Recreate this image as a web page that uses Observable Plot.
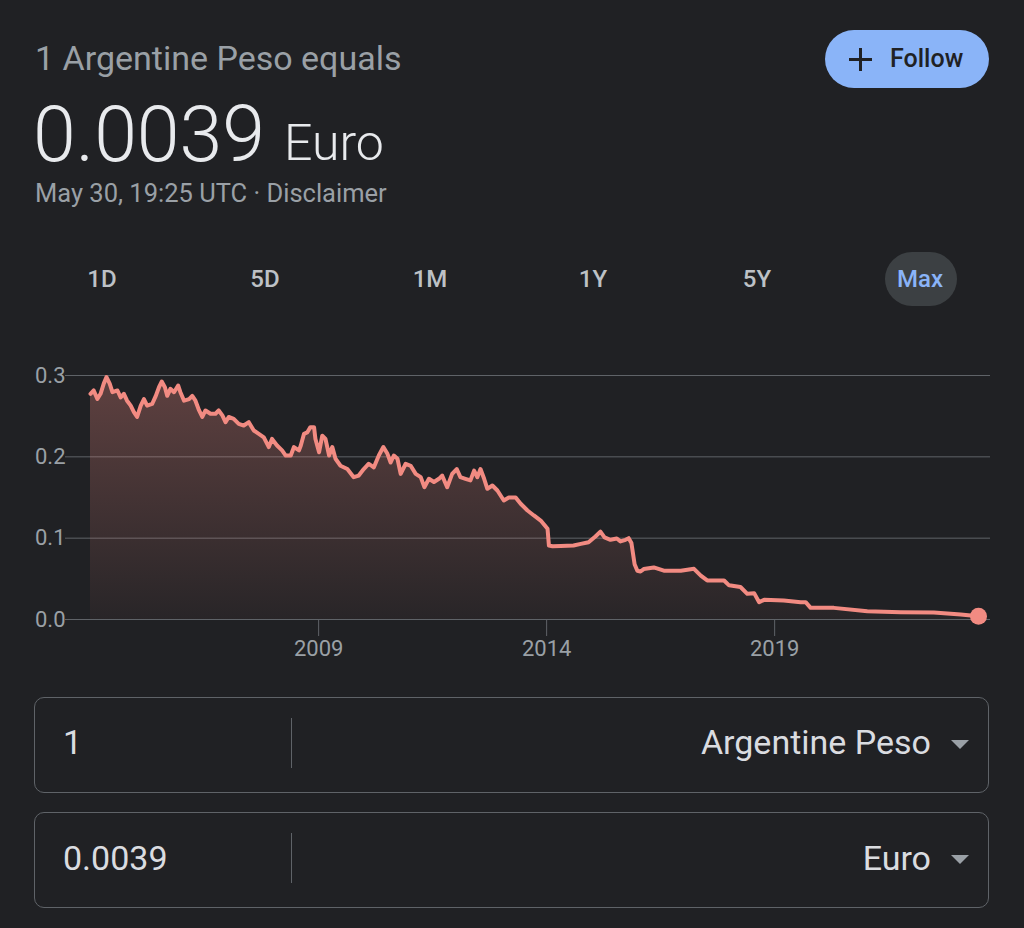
<!DOCTYPE html>
<html>
<head>
<meta charset="utf-8">
<script src="https://cdn.jsdelivr.net/npm/d3@7"></script>
<script src="https://cdn.jsdelivr.net/npm/@observablehq/plot@0.6"></script>
<style>
  html, body { margin: 0; padding: 0; background: #202124; }
  #page { position: relative; width: 1024px; height: 928px; overflow: hidden; font-family: Roboto, "Noto Sans", sans-serif; }
  .abs { position: absolute; line-height: 1; white-space: nowrap; }
  .tab { position: absolute; top: 267px; width: 100px; margin-left: -50px; text-align: center; font-size: 24px; font-weight: 500; color: #bdc1c6; line-height: 1; }
  .box { position: absolute; left: 34px; width: 953px; height: 94px; border: 1.5px solid #5f6368; border-radius: 10px; box-sizing: content-box; }
  .sep { position: absolute; left: 256px; top: 20px; width: 1px; height: 50px; background: #5f6368; }
  .tri { position: absolute; width: 0; height: 0; border-left: 9px solid transparent; border-right: 9px solid transparent; border-top: 9px solid #9aa0a6; }
  .conv { font-size: 34px; color: #dadce0; }
  #chart { position: absolute; left: 0; top: 340px; }
</style>
</head>
<body>
<div id="page">
  <div class="abs" style="left:35px; top:41px; font-size:34px; color:#9aa0a6;">1 Argentine Peso equals</div>
  <div class="abs" style="left:33px; top:97px; font-size:77px; font-weight:300; color:#e8eaed;">0.0039</div>
  <div class="abs" style="left:284px; top:118px; font-size:50px; font-weight:300; color:#e8eaed;">Euro</div>
  <div class="abs" style="left:35px; top:181px; font-size:25.5px; color:#9aa0a6;">May 30, 19:25 UTC · Disclaimer</div>

  <div class="abs" style="left:825px; top:30px; width:164px; height:58px; border-radius:29px; background:#8ab4f8;"></div>
  <div class="abs" style="left:849px; top:58px; width:23px; height:3px; background:#202124;"></div>
  <div class="abs" style="left:859px; top:48px; width:3px; height:23px; background:#202124;"></div>
  <div class="abs" style="left:890px; top:46px; font-size:25px; font-weight:500; color:#202124;">Follow</div>

  <div class="abs" style="left:885px; top:252px; width:72px; height:54px; border-radius:27px; background:#3c4043;"></div>
  <div class="tab" style="left:102px;">1D</div>
  <div class="tab" style="left:265px;">5D</div>
  <div class="tab" style="left:430px;">1M</div>
  <div class="tab" style="left:593px;">1Y</div>
  <div class="tab" style="left:757px;">5Y</div>
  <div class="tab" style="left:920px; color:#8ab4f8;">Max</div>

  <div id="chart"></div>

  <div class="box" style="top:697px;"><div class="sep"></div></div>
  <div class="abs conv" style="left:63px; top:725px;">1</div>
  <div class="abs conv" style="right:93px; top:725px;">Argentine Peso</div>
  <div class="tri" style="left:951px; top:740px;"></div>

  <div class="box" style="top:812px;"><div class="sep"></div></div>
  <div class="abs conv" style="left:63px; top:841px;">0.0039</div>
  <div class="abs conv" style="right:93px; top:841px;">Euro</div>
  <div class="tri" style="left:951px; top:855px;"></div>
</div>

<script>
// Time as decimal years
const years = [
  2004.00,2004.07,2004.15,2004.22,2004.29,2004.35,2004.42,2004.48,2004.59,2004.66,2004.73,2004.80,2004.88,2004.95,
  2005.02,2005.10,2005.17,2005.24,2005.35,2005.43,2005.50,2005.56,2005.63,2005.68,2005.75,2005.83,2005.92,2005.97,
  2006.05,2006.16,2006.23,2006.30,2006.38,2006.45,2006.52,2006.63,2006.74,2006.81,2006.89,2006.96,
  2007.03,2007.14,2007.25,2007.36,2007.47,2007.58,2007.69,2007.80,2007.91,2007.98,
  2008.09,2008.20,2008.28,2008.39,2008.46,2008.57,2008.61,2008.68,2008.75,2008.82,2008.90,2008.93,
  2009.01,2009.08,2009.15,2009.23,2009.30,2009.37,2009.48,2009.63,2009.77,2009.88,2009.99,
  2010.10,2010.21,2010.32,2010.42,2010.51,2010.58,2010.65,2010.73,2010.80,2010.91,
  2011.02,2011.13,2011.24,2011.32,2011.42,2011.53,2011.64,2011.71,2011.82,2011.93,
  2012.03,2012.11,2012.22,2012.33,2012.41,2012.48,2012.55,2012.63,2012.70,2012.81,2012.92,
  2013.06,2013.17,2013.32,2013.43,2013.58,2013.72,2013.87,
  2014.02,2014.05,2014.13,2014.31,2014.59,2014.75,2014.92,
  2015.07,2015.18,2015.27,2015.40,2015.54,2015.62,2015.73,2015.80,2015.86,2015.93,2015.99,
  2016.06,2016.13,2016.35,2016.57,2016.94,
  2017.23,2017.38,2017.52,2017.89,
  2018.00,2018.25,2018.40,2018.55,2018.66,2018.77,
  2019.20,2019.57,2019.68,2019.79,
  2020.30,
  2021.03,2021.76,
  2022.49,
  2023.08,2023.47
];
// Euro per Argentine Peso
const rates = [
  0.2775,0.2816,0.2713,0.2775,0.290,0.298,0.290,0.2795,0.2816,0.273,0.2775,0.269,0.263,0.255,
  0.249,0.263,0.271,0.263,0.265,0.275,0.2856,0.2926,0.2856,0.275,0.2836,0.2795,0.2877,0.2795,
  0.269,0.271,0.275,0.269,0.257,0.249,0.257,0.253,0.253,0.257,0.251,0.2426,
  0.249,0.2467,0.2406,0.2385,0.2426,0.2324,0.2283,0.224,0.212,0.222,
  0.214,0.208,0.2016,0.2016,0.212,0.208,0.214,0.2283,0.230,0.2365,0.2365,0.222,
  0.2057,0.226,0.222,0.2016,0.212,0.1976,0.189,0.185,0.175,0.177,0.185,
  0.1915,0.187,0.2016,0.212,0.2037,0.193,0.2016,0.1976,0.179,0.1915,
  0.189,0.179,0.175,0.1627,0.173,0.169,0.173,0.177,0.1627,0.179,
  0.185,0.175,0.173,0.171,0.183,0.175,0.185,0.173,0.1607,0.1648,0.1586,
  0.1463,0.150,0.150,0.1423,0.134,0.1279,0.1217,
  0.1115,0.091,0.090,0.0905,0.091,0.093,0.095,
  0.102,0.108,0.101,0.098,0.0996,0.096,0.098,0.100,0.094,0.068,0.060,
  0.059,0.062,0.064,0.060,0.060,
  0.0623,0.054,0.048,0.048,
  0.042,0.040,0.0316,0.0324,0.0213,0.0242,
  0.0234,0.0213,0.0213,0.0143,
  0.0143,
  0.0102,0.009,
  0.0086,
  0.0061,0.0039
];
const xTickYears = [2009, 2014, 2019];
const yTicks = [0, 0.1, 0.2, 0.3];

function toDate(t) {
  const y = Math.floor(t);
  const start = Date.UTC(y, 0, 1), end = Date.UTC(y + 1, 0, 1);
  return new Date(start + (t - y) * (end - start));
}
const data = years.map((t, i) => ({date: toDate(t), rate: rates[i]}));
const xTicks = xTickYears.map(y => new Date(Date.UTC(y, 0, 1)));

const lineColor = "#f28b82";

const chart = Plot.plot({
  width: 1024,
  height: 330,
  marginTop: 35,
  marginBottom: 51,
  marginLeft: 90,
  marginRight: 46,
  style: {background: "none", color: "#9aa0a6", fontFamily: "Roboto, sans-serif", overflow: "visible"},
  x: {type: "utc", domain: [data[0].date, data[data.length - 1].date]},
  y: {domain: [0, 0.3]},
  marks: [
    Plot.ruleY(yTicks, {stroke: "#5f6368", strokeWidth: 1, insetLeft: -25, insetRight: -12}),
    Plot.areaY(data, {x: "date", y: "rate", fill: "url(#argGrad)"}),
    Plot.lineY(data, {x: "date", y: "rate", stroke: lineColor, strokeWidth: 4, strokeLinejoin: "round"}),
    Plot.dot(data, Plot.selectLast({x: "date", y: "rate", r: 8.5, fill: lineColor, stroke: "none"})),
    Plot.axisY({ticks: yTicks, tickFormat: d3.format(".1f"), tickSize: 0, tickPadding: 25, fontSize: 22, label: null, color: "#9aa0a6"}),
    Plot.axisX({ticks: xTicks, tickFormat: d3.utcFormat("%Y"), tickSize: 17, tickPadding: 4, fontSize: 22, stroke: "#5f6368", label: null, color: "#9aa0a6"})
  ]
});

d3.select(chart).insert("defs", ":first-child").html(
  '<linearGradient id="argGrad" x1="0" y1="0" x2="0" y2="1">' +
  '<stop offset="0" stop-color="#f28b82" stop-opacity="0.3"></stop>' +
  '<stop offset="1" stop-color="#f28b82" stop-opacity="0.04"></stop>' +
  '</linearGradient>'
);

document.getElementById("chart").appendChild(chart);
</script>
</body>
</html>
